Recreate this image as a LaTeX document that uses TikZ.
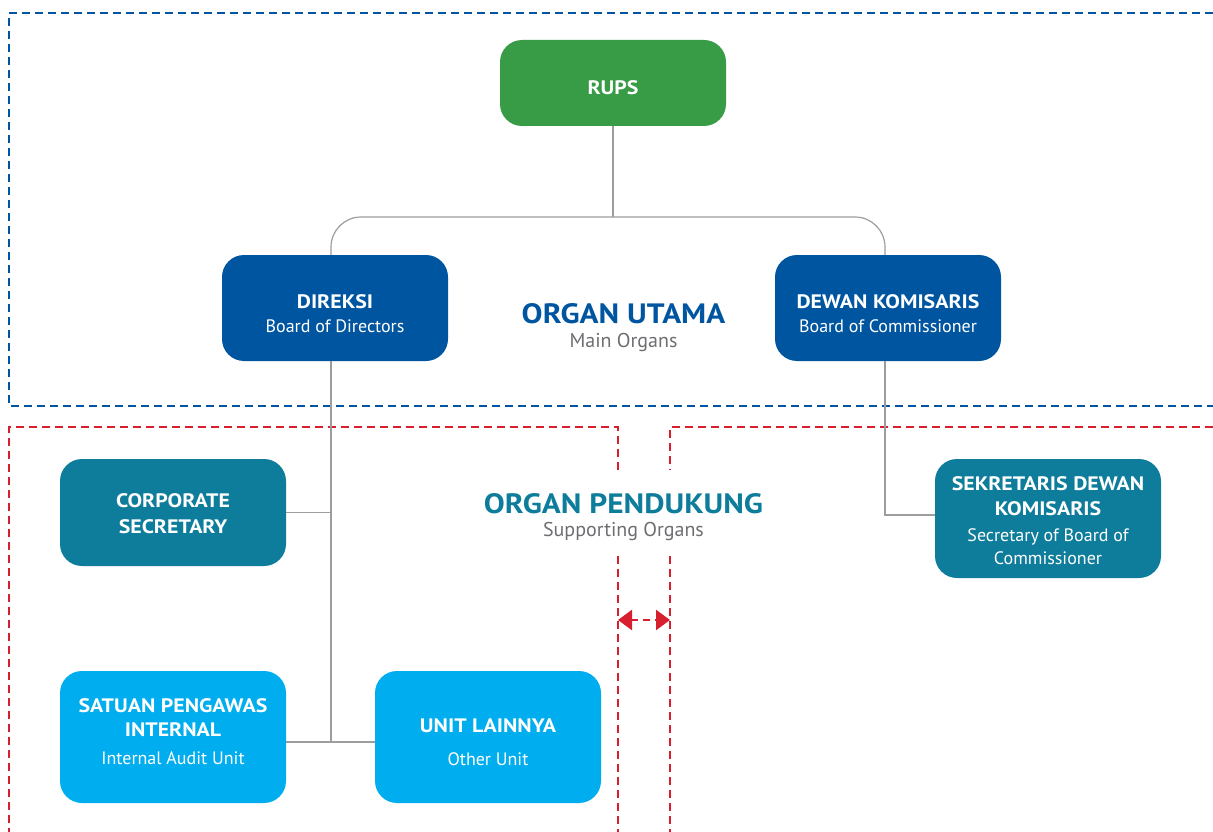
\documentclass[tikz,border=0pt]{standalone}
\usepackage{fontspec}
\setmainfont{PT Sans}
\newfontfamily\widefont{PT Sans}[FakeStretch=1.12]
\usetikzlibrary{arrows.meta}

\definecolor{rupsgreen}{HTML}{389B46}
\definecolor{mainblue}{HTML}{0055A0}
\definecolor{supteal}{HTML}{0E7C9B}
\definecolor{unitblue}{HTML}{00ADEE}
\definecolor{dashred}{HTML}{D71F2D}
\definecolor{linegray}{HTML}{9D9D9D}
\definecolor{textgray}{HTML}{6D6E71}

\newcommand{\ttl}[1]{{\widefont\bfseries\fontsize{19.5}{22}\selectfont #1}}

\begin{document}
\begin{tikzpicture}[x=1pt,y=-1pt,
  organ/.style={rounded corners=22pt, minimum width=226pt, inner sep=0pt},
  orgtext/.style={anchor=base, text=white, align=center, inner sep=0pt,
    font=\fontsize{18}{22}\selectfont},
  zonetitle/.style={anchor=base, inner sep=0pt, font=\widefont\bfseries\fontsize{28}{30}\selectfont},
  zonesub/.style={anchor=base, inner sep=0pt, text=textgray, font=\fontsize{20}{22}\selectfont},
  conn/.style={draw=linegray, line width=1.2pt},
  zone/.style={line width=2.5pt, dash pattern=on 8pt off 5pt}]
 \useasboundingbox (0,0) rectangle (1213,832);

 % dashed zones
 \draw [zone, mainblue] (1213,13) -- (9,13) -- (9,406) -- (1213,406);
 \draw [zone, dashred] (618,470) -- (618,427) -- (9,427) -- (9,832);
 \draw [zone, dashred] (618,556) -- (618,832);
 \draw [zone, dashred] (1213,427) -- (670,427) -- (670,470);
 \draw [zone, dashred] (670,556) -- (670,832);
 \coordinate (gapl) at (618,620);
 \coordinate (gapr) at (670,620);
 \draw [line width=2.5pt, dashred, dash pattern=on 7pt off 5pt,
   {Triangle[length=14pt,width=20pt]}-{Triangle[length=14pt,width=20pt]}] (gapl) -- (gapr);

 % boxes
 \node [organ, fill=rupsgreen, minimum height=86pt] (rups) at (613,83) {};
 \node [organ, fill=mainblue, minimum height=106pt] (dir) at (335,308) {};
 \node [organ, fill=mainblue, minimum height=106pt] (dk) at (888,308) {};
 \node [organ, fill=supteal, minimum height=107pt] (cs) at (173,512.5) {};
 \node [organ, fill=supteal, minimum height=119pt] (sdk) at (1048,518.5) {};
 \node [organ, fill=unitblue, minimum height=132pt] (spi) at (173,737) {};
 \node [organ, fill=unitblue, minimum height=132pt] (ul) at (488,737) {};

 % box texts (base = last line)
 \node [orgtext] (rupstxt) at (613,95) {\ttl{RUPS}};
 \node [orgtext] (dirtxt) at (335,332) {\ttl{DIREKSI}\\[2pt]Board of Directors};
 \node [orgtext] (dktxt) at (888,332) {\ttl{DEWAN KOMISARIS}\\[2pt]Board of Commissioner};
 \node [orgtext] (cstxt) at (173,533) {\ttl{CORPORATE}\\[4pt]\ttl{SECRETARY}};
 \node [orgtext] (sdktxt) at (1048,564) {\ttl{SEKRETARIS DEWAN}\\[3pt]\ttl{KOMISARIS}\\[4pt]Secretary of Board of\\[1pt]Commissioner};
 \node [orgtext] (spitxt) at (173,764) {\ttl{SATUAN PENGAWAS}\\[2pt]\ttl{INTERNAL}\\[6pt]Internal Audit Unit};
 \node [orgtext] (ultxt) at (488,765) {\ttl{UNIT LAINNYA}\\[11pt]Other Unit};

 % zone labels
 \node [zonetitle, text=mainblue] (utama) at (623.5,323) {ORGAN UTAMA};
 \node [zonesub] (utamasub) at (623.5,347) {Main Organs};
 \node [zonetitle, text=supteal] (pend) at (623.5,513) {ORGAN PENDUKUNG};
 \node [zonesub] (pendsub) at (623.5,536) {Supporting Organs};

 % connectors
 \coordinate (fork) at (613,217);
 \coordinate (base) at (331,742);
 \coordinate (dkbend) at (885,515);
 \draw [conn] (rups.south) -- (fork);
 \draw [conn, rounded corners=30pt] (dir.north -| base) |- (fork) -| (dk.north -| dkbend);
 \draw [conn] (dir.south -| base) -- (base);
 \draw [conn] (cs.east) -- (cs.east -| base);
 \draw [conn] (spi.east |- base) -- (ul.west |- base);
 \draw [conn] (dk.south -| dkbend) -- (dkbend) -- (sdk.west |- dkbend);
\end{tikzpicture}
\end{document}
